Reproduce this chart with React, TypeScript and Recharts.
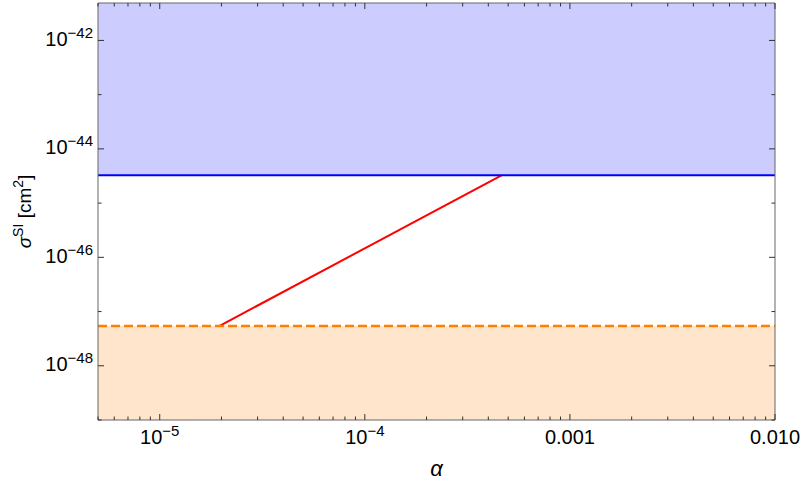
import React from 'react'
import {
  LineChart,
  Line,
  XAxis,
  YAxis,
  ReferenceArea,
} from 'recharts'

// alpha axis (log)
const xDomain = [5e-6, 0.01]
const xMajorTicks = [1e-5, 1e-4, 1e-3, 1e-2]
const xTickLabels = ['10^−5', '10^−4', '0.001', '0.010']
const xMinorMantissas = [2, 3, 4, 5, 6, 7, 8, 9]
const xMinorDecades = [1e-6, 1e-5, 1e-4, 1e-3]

// sigma^SI axis (log)
const yDomain = [1e-49, 4.9e-42]
const yMajorTicks = [1e-42, 1e-44, 1e-46, 1e-48]
const yTickLabels = ['10^−42', '10^−44', '10^−46', '10^−48']
const yMinorTicks = [1e-43, 1e-45, 1e-47, 1e-49]

// curves
const upperLimit = 3.25e-45 // blue line, excluded above
const lowerLimit = 5.4e-48 // orange dashed line, floor below
const redAlpha = [1.95e-5, 4.64e-4]
const redSigma = [5.4e-48, 3.25e-45]

const blueLine = [
  { a: xDomain[0], s: upperLimit },
  { a: xDomain[1], s: upperLimit },
]
const orangeLine = [
  { a: xDomain[0], s: lowerLimit },
  { a: xDomain[1], s: lowerLimit },
]
const redLine = redAlpha.map((a, i) => ({ a, s: redSigma[i] }))

const xTicks = [
  ...xMajorTicks,
  ...xMinorDecades.flatMap((d) => xMinorMantissas.map((m) => m * d)),
].filter((v) => v >= xDomain[0] * 0.999 && v <= xDomain[1] * 1.001)
const yTicks = [...yMajorTicks, ...yMinorTicks]

const FONT = '"Liberation Sans", Arial, Helvetica, sans-serif'
const TICK_COLOR = '#333'
const FRAME_COLOR = '#666'

function majorIndex(v: number, majors: number[]) {
  return majors.findIndex((m) => Math.abs(Math.log10(v) - Math.log10(m)) < 1e-6)
}

function PowerLabel({ x, y, text, anchor }: { x: number; y: number; text: string; anchor: string }) {
  const [base, exp] = text.split('^')
  return (
    <text x={x} y={y} textAnchor={anchor} fontFamily={FONT} fontSize={20} fill="#000">
      <tspan>{base}</tspan>
      {exp && (
        <tspan dy={-8} fontSize={15}>
          {exp}
        </tspan>
      )}
    </text>
  )
}

function XTick(props: any) {
  const { x, y, payload, side } = props
  const idx = majorIndex(payload.value, xMajorTicks)
  const len = idx >= 0 ? 6 : 3.5
  const dir = side === 'top' ? 1 : -1
  return (
    <g>
      <line x1={x} y1={y} x2={x} y2={y + dir * len} stroke={TICK_COLOR} strokeWidth={1} />
      {side === 'bottom' && idx >= 0 && (
        <PowerLabel x={x} y={y + 24} text={xTickLabels[idx]} anchor="middle" />
      )}
    </g>
  )
}

function YTick(props: any) {
  const { x, y, payload, side } = props
  const idx = majorIndex(payload.value, yMajorTicks)
  const len = idx >= 0 ? 6 : 3.5
  const dir = side === 'left' ? 1 : -1
  return (
    <g>
      <line x1={x} y1={y} x2={x + dir * len} y2={y} stroke={TICK_COLOR} strokeWidth={1} />
      {side === 'left' && idx >= 0 && (
        <PowerLabel x={x - 5} y={y + 5.5} text={yTickLabels[idx]} anchor="end" />
      )}
    </g>
  )
}

function XTitle(props: any) {
  const { viewBox } = props
  return (
    <text
      x={viewBox.x + viewBox.width / 2}
      y={476}
      textAnchor="middle"
      fontFamily={FONT}
      fontStyle="italic"
      fontSize={22}
      fill="#000"
    >
      α
    </text>
  )
}

function YTitle(props: any) {
  const { viewBox } = props
  const cx = 31
  const cy = viewBox.y + viewBox.height / 2
  return (
    <text
      x={cx}
      y={cy}
      transform={`rotate(-90 ${cx} ${cy})`}
      textAnchor="middle"
      fontFamily={FONT}
      fontSize={19}
      fill="#000"
    >
      <tspan fontStyle="italic">σ</tspan>
      <tspan dy={-8} fontSize={14}>SI</tspan>
      <tspan dy={8}> [cm</tspan>
      <tspan dy={-8} fontSize={14}>2</tspan>
      <tspan dy={8}>]</tspan>
    </text>
  )
}

export default function App() {
  return (
    <div style={{ position: 'absolute', left: 0, top: 0, background: '#fff' }}>
      <LineChart
        width={801}
        height={482}
        margin={{ top: 2, right: 25, bottom: 22, left: 8 }}
      >
        <XAxis
          xAxisId="bottom"
          dataKey="a"
          type="number"
          scale="log"
          domain={xDomain}
          allowDataOverflow
          ticks={xTicks}
          interval={0}
          height={40}
          tickSize={0}
          tickMargin={0}
          tickLine={false}
          axisLine={{ stroke: FRAME_COLOR }}
          tick={(p: any) => <XTick {...p} side="bottom" />}
          label={<XTitle />}
        />
        <XAxis
          xAxisId="top"
          orientation="top"
          dataKey="a"
          type="number"
          scale="log"
          domain={xDomain}
          allowDataOverflow
          ticks={xTicks}
          interval={0}
          height={1}
          tickSize={0}
          tickMargin={0}
          tickLine={false}
          axisLine={{ stroke: FRAME_COLOR }}
          tick={(p: any) => <XTick {...p} side="top" />}
        />
        <YAxis
          yAxisId="left"
          dataKey="s"
          type="number"
          scale="log"
          domain={yDomain}
          allowDataOverflow
          ticks={yTicks}
          interval={0}
          width={90}
          tickSize={0}
          tickMargin={0}
          tickLine={false}
          axisLine={{ stroke: FRAME_COLOR }}
          tick={(p: any) => <YTick {...p} side="left" />}
          label={<YTitle />}
        />
        <YAxis
          yAxisId="right"
          orientation="right"
          dataKey="s"
          type="number"
          scale="log"
          domain={yDomain}
          allowDataOverflow
          ticks={yTicks}
          interval={0}
          width={1}
          tickSize={0}
          tickMargin={0}
          tickLine={false}
          axisLine={{ stroke: FRAME_COLOR }}
          tick={(p: any) => <YTick {...p} side="right" />}
        />
        <ReferenceArea
          xAxisId="bottom"
          yAxisId="left"
          x1={xDomain[0]}
          x2={xDomain[1]}
          y1={upperLimit}
          y2={yDomain[1]}
          fill="#ccccff"
          fillOpacity={1}
          stroke="none"
        />
        <ReferenceArea
          xAxisId="bottom"
          yAxisId="left"
          x1={xDomain[0]}
          x2={xDomain[1]}
          y1={yDomain[0]}
          y2={lowerLimit}
          fill="#ffe5cc"
          fillOpacity={1}
          stroke="none"
        />
        <Line
          xAxisId="bottom"
          yAxisId="left"
          data={redLine}
          dataKey="s"
          stroke="#ff0000"
          strokeWidth={2}
          dot={false}
          isAnimationActive={false}
        />
        <Line
          xAxisId="bottom"
          yAxisId="left"
          data={orangeLine}
          dataKey="s"
          stroke="#ff8000"
          strokeWidth={2.5}
          strokeDasharray="9 4"
          dot={false}
          isAnimationActive={false}
        />
        <Line
          xAxisId="bottom"
          yAxisId="left"
          data={blueLine}
          dataKey="s"
          stroke="#0000ff"
          strokeWidth={2}
          dot={false}
          isAnimationActive={false}
        />
      </LineChart>
    </div>
  )
}
